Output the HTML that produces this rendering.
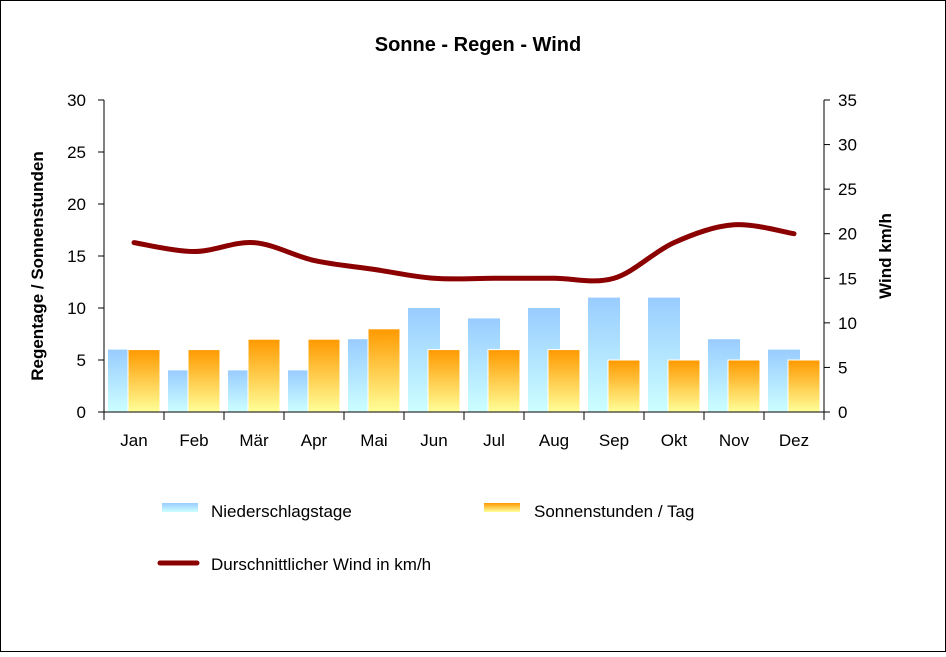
<!DOCTYPE html>
<html><head><meta charset="utf-8"><style>
body{margin:0;background:#fff;}
svg text{font-family:"Liberation Sans",Arial,sans-serif;}
</style></head><body>
<svg id="c" width="946" height="652" xmlns="http://www.w3.org/2000/svg">
<defs>
<linearGradient id="gb" x1="0" y1="0" x2="0" y2="1"><stop offset="0" stop-color="#99ccff"/><stop offset="1" stop-color="#ccffff"/></linearGradient>
<linearGradient id="go" x1="0" y1="0" x2="0" y2="1"><stop offset="0" stop-color="#ff9900"/><stop offset="1" stop-color="#ffff99"/></linearGradient>
</defs>
<rect x="0.5" y="0.5" width="945" height="651" fill="#fff" stroke="#000"/>
<text x="478" y="51" text-anchor="middle" font-size="20" font-weight="bold">Sonne - Regen - Wind</text>
<g id="plot"></g>
<text transform="translate(43,266) rotate(-90)" text-anchor="middle" font-size="17" font-weight="bold">Regentage / Sonnenstunden</text>
<text transform="translate(891,256) rotate(-90)" text-anchor="middle" font-size="17" font-weight="bold">Wind km/h</text>
<g>
<rect x="162" y="503" width="36" height="9" fill="url(#gb)"/>
<text x="211" y="517" font-size="17">Niederschlagstage</text>
<rect x="484" y="503" width="36" height="9" fill="url(#go)"/>
<text x="534" y="517" font-size="17">Sonnenstunden / Tag</text>
<line x1="160" y1="563" x2="197" y2="563" stroke="#8b0000" stroke-width="5" stroke-linecap="round"/>
<text x="211" y="570" font-size="17">Durschnittlicher Wind in km/h</text>
</g>
</svg>
<script>
const months=["Jan","Feb","Mär","Apr","Mai","Jun","Jul","Aug","Sep","Okt","Nov","Dez"];
const rainDays=[6,4,4,4,7,10,9,10,11,11,7,6];
const sunHours=[6,6,7,7,8,6,6,6,5,5,5,5];
const wind=[19,18,19,17,16,15,15,15,15,19,21,20];
const leftTicks=[0,5,10,15,20,25,30];
const rightTicks=[0,5,10,15,20,25,30,35];
const NS="http://www.w3.org/2000/svg";
const X0=104,X1=824,Y0=412,Y1=100,bw=(X1-X0)/months.length;
const yL=v=>Y0-(v/30)*(Y0-Y1);
const yR=v=>Y0-(v/35)*(Y0-Y1);
const g=document.getElementById('plot');
function mk(t,a){const e=document.createElementNS(NS,t);for(const k in a)e.setAttribute(k,a[k]);g.appendChild(e);return e;}
months.forEach((m,i)=>{
 const x=X0+i*bw;
 let r=mk('rect',{x:x+4,y:yL(rainDays[i]),width:32,height:Y0-yL(rainDays[i]),fill:'url(#gb)'});
 
 
 let s=mk('rect',{x:x+24,y:yL(sunHours[i]),width:32,height:Y0-yL(sunHours[i]),fill:'url(#go)',stroke:'#fff','stroke-width':1});
 
 
 let t=mk('text',{x:x+bw/2,y:446,'text-anchor':'middle','font-size':17});
 t.textContent=m;
 
 
 let tk=mk('line',{x1:x+bw,y1:Y0,x2:x+bw,y2:Y0+8,stroke:'#000'});
 
 
});
let ax=mk('line',{x1:X0,y1:Y0,x2:X1,y2:Y0,stroke:'#000'});


let tk0=mk('line',{x1:X0,y1:Y0,x2:X0,y2:Y0+8,stroke:'#000'});


let al=mk('line',{x1:X0,y1:Y1,x2:X0,y2:Y0,stroke:'#000'});


let ar=mk('line',{x1:X1,y1:Y1,x2:X1,y2:Y0,stroke:'#000'});


leftTicks.forEach(v=>{
 let l=mk('line',{x1:X0-6,y1:yL(v),x2:X0,y2:yL(v),stroke:'#000'});
 
 
 let t=mk('text',{x:86,y:yL(v)+6,'text-anchor':'end','font-size':17});
 t.textContent=v;
 
 
});
rightTicks.forEach(v=>{
 let l=mk('line',{x1:X1,y1:yR(v),x2:X1+6,y2:yR(v),stroke:'#000'});
 
 
 let t=mk('text',{x:838,y:yR(v)+6,'text-anchor':'start','font-size':17});
 t.textContent=v;
 
 
});
const pts=wind.map((v,i)=>[X0+i*bw+bw/2,yR(v)]);
let d='M'+pts[0][0]+','+pts[0][1];
for(let i=0;i<pts.length-1;i++){
 const p0=pts[Math.max(0,i-1)],p1=pts[i],p2=pts[i+1],p3=pts[Math.min(pts.length-1,i+2)];
 const k=1/6;
 d+=` C${p1[0]+(p2[0]-p0[0])*k},${p1[1]+(p2[1]-p0[1])*k} ${p2[0]-(p3[0]-p1[0])*k},${p2[1]-(p3[1]-p1[1])*k} ${p2[0]},${p2[1]}`;
}
let w=mk('path',{d:d,fill:'none',stroke:'#8b0000','stroke-width':5,'stroke-linecap':'round'});


</script>
</body></html>
